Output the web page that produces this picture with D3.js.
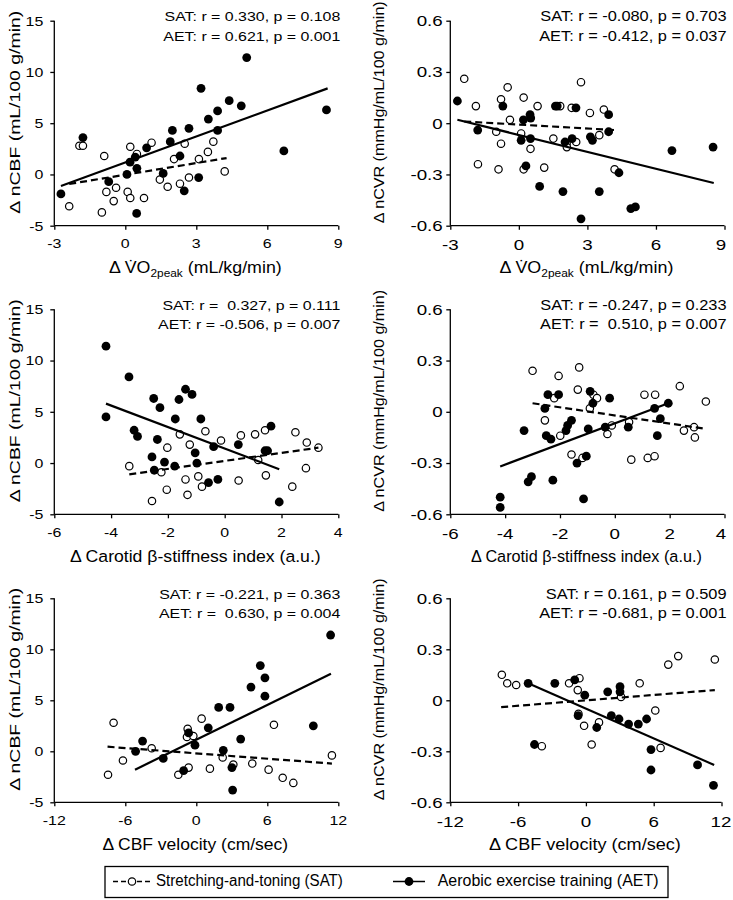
<!DOCTYPE html>
<html><head><meta charset="utf-8">
<script src="https://cdn.jsdelivr.net/npm/d3@7"></script>
<style>
body{margin:0;background:#fff}
text{font-family:"Liberation Sans",Arial,sans-serif;fill:#000;white-space:pre}
</style>
</head><body><svg id="c" width="733" height="900"></svg>
<script>
// ---------- tick values / labels ----------
const vo2Ticks = [-3, 0, 3, 6, 9];
const vo2TickLabels = ["-3", "0", "3", "6", "9"];
const stiffTicks = [-6, -4, -2, 0, 2, 4];
const stiffTickLabels = ["-6", "-4", "-2", "0", "2", "4"];
const velTicks = [-12, -6, 0, 6, 12];
const velTickLabels = ["-12", "-6", "0", "6", "12"];
const cbfTicks = [-5, 0, 5, 10, 15];
const cbfTickLabels = ["-5", "0", "5", "10", "15"];
const cvrTicks = [-0.6, -0.3, 0, 0.3, 0.6];
const cvrTickLabels = ["-0.6", "-0.3", "0", "0.3", "0.6"];

// ---------- panel 1: VO2peak vs nCBF ----------
const p1SatX = [-2.37,-1.94,-1.79,-0.89,-0.99,-0.8,-0.39,-0.49,0.1,0.21,0.21,0.49,0.79,1.11,1.46,1.79,2.06,2.31,2.51,2.69,3.11,3.49,3.72,4.2];
const p1SatY = [-3.1,2.8,2.8,1.8,-3.7,-1.7,-1.3,-2.6,-1.7,2.7,-2.3,2.0,-2.3,3.1,-0.5,-1.2,1.5,-0.9,3.0,-0.3,1.5,2.2,3.2,0.3];
const p1AetX = [-2.72,-1.79,-0.70,0.07,0.2,0.42,0.49,0.48,0.9,1.6,1.9,1.99,2.31,2.49,2.69,3.1,3.2,3.51,3.9,3.9,4.39,4.9,5.13,6.7,8.5];
const p1AetY = [-1.9,3.6,-0.7,0.0,1.2,1.7,0.6,-3.8,2.6,0.1,3.2,4.3,1.8,-1.6,4.5,-0.3,8.4,5.4,6.2,4.3,7.2,6.7,11.4,2.3,6.3];
const p1SatFit = [-2.37,-0.93,4.28,1.6];
const p1AetFit = [-2.72,-1.13,8.55,8.4];
const p1Stats = ["SAT: r = 0.330, p = 0.108", "AET: r = 0.621, p = 0.001"];

// ---------- panel 2: VO2peak vs nCVR ----------
const p2SatX = [-2.39,-1.88,-1.79,-0.78,-0.99,-0.78,-0.89,-0.49,-0.39,0.21,0.1,0.21,0.51,0.82,1.11,1.51,1.81,2.09,2.1,2.31,2.51,2.72,3.11,3.52,3.72,4.19];
const p2SatY = [0.26,0.10,-0.24,0.14,-0.05,-0.12,-0.27,0.21,0.02,0.15,-0.06,-0.27,-0.15,0.10,-0.26,-0.09,0.10,-0.12,-0.14,0.09,-0.11,0.24,0.06,-0.07,0.08,-0.27];
const p2AetX = [-2.69,-1.8,-0.7,0.1,0.2,0.31,0.49,0.52,0.51,0.91,1.6,1.68,1.93,2.02,2.33,2.5,2.72,3.13,3.22,3.52,3.93,3.93,4.38,4.9,5.1,6.7,8.5];
const p2AetY = [0.13,-0.04,0.10,-0.10,0.02,-0.25,0.05,0.03,-0.09,-0.37,0.10,0.10,-0.40,-0.11,-0.09,0.09,-0.56,-0.08,-0.10,-0.40,0.05,-0.05,-0.29,-0.50,-0.49,-0.16,-0.14];
const p2SatFit = [-2.39,0.01,4.19,-0.04];
const p2AetFit = [-2.69,0.02,8.53,-0.35];
const p2Stats = ["SAT: r = -0.080, p = 0.703", "AET: r = -0.412, p = 0.037"];

// ---------- panel 3: carotid stiffness vs nCBF ----------
const p3SatX = [-3.36,-2.56,-2.23,-2.02,-2.04,-1.58,-1.38,-1.31,-1.23,-0.93,-0.8,-0.68,-0.13,0.49,0.57,1.07,1.18,1.42,1.45,2.38,2.49,2.86,2.89,3.3];
const p3SatY = [-0.3,-3.7,-0.9,1.5,-2.6,2.8,-1.6,-3.1,1.8,-1.3,-2.3,3.1,2.2,-1.7,2.7,2.8,0.3,3.2,-1.2,-2.3,3.0,-0.5,2.0,1.5];
const p3AetX = [-4.18,-4.18,-3.37,-3.19,-3.07,-2.5,-2.56,-2.48,-2.37,-2.28,-2.12,-1.76,-1.74,-1.61,-1.38,-1.15,-1.04,-0.98,-0.84,-0.57,-0.24,-0.39,0.48,1.42,1.51,1.63,1.92];
const p3AetY = [11.4,4.5,8.4,3.2,2.6,6.3,0.6,-0.7,2.3,5.4,0.1,-0.3,4.3,6.2,7.2,6.7,1.0,0.0,4.3,-1.9,-1.6,1.6,1.8,1.2,1.2,3.6,-3.8];
const p3SatFit = [-3.36,-1.1,3.3,1.5];
const p3AetFit = [-4.18,5.8,1.92,-0.6];
const p3Stats = ["SAT: r =  0.327, p = 0.111", "AET: r = -0.506, p = 0.007"];

// ---------- panel 4: carotid stiffness vs nCVR ----------
const p4SatX = [-3.0,-2.55,-2.21,-2.05,-1.99,-1.58,-1.35,-1.3,-1.18,-0.78,-0.65,-0.91,-0.27,-0.11,0.52,0.6,1.08,1.2,1.45,1.47,2.37,2.52,2.89,2.92,3.32];
const p4SatY = [0.24,-0.05,0.08,0.21,-0.14,-0.25,0.13,0.26,-0.27,0.10,0.08,0.02,-0.13,-0.08,-0.06,-0.28,0.10,-0.27,-0.26,0.10,0.15,-0.11,-0.09,-0.15,0.06];
const p4AetX = [-4.18,-4.18,-3.31,-3.16,-3.04,-2.44,-2.55,-2.5,-2.33,-2.26,-2.05,-1.78,-1.72,-1.58,-1.38,-1.14,-1.04,-0.97,-0.9,-0.8,-0.19,-0.35,0.49,1.45,1.55,1.66,1.95];
const p4AetY = [-0.50,-0.56,-0.11,-0.41,-0.38,0.10,0.02,-0.14,-0.16,-0.40,0.10,-0.11,-0.08,-0.05,-0.30,-0.51,-0.26,-0.10,0.12,0.05,0.08,-0.09,-0.09,0.02,-0.14,-0.04,0.05];
const p4SatFit = [-3.0,0.05,3.32,-0.10];
const p4AetFit = [-4.18,-0.32,1.95,0.05];
const p4Stats = ["SAT: r = -0.247, p = 0.233", "AET: r =  0.510, p = 0.007"];

// ---------- panel 5: CBF velocity vs nCBF ----------
const p5SatX = [-7.46,-6.99,-6.2,-3.77,-1.52,-0.73,-0.79,-0.65,-0.25,0.45,1.15,2.23,3.13,4.73,6.11,6.56,7.3,8.2,11.46];
const p5SatY = [-2.3,2.8,-0.9,0.3,-2.3,2.2,1.4,-1.6,1.5,3.2,-1.7,-0.6,-1.3,-1.2,-1.8,2.6,-2.6,-3.1,-0.4];
const p5AetX = [-5.13,-4.54,-2.79,-1.07,-0.65,-0.11,1.01,1.89,2.28,2.85,3.01,3.07,3.75,4.62,5.41,5.8,5.8,9.89,11.35];
const p5AetY = [0.0,1.0,-0.7,-1.9,1.8,0.6,2.3,4.3,0.1,4.3,-1.6,-3.8,1.2,6.3,8.4,7.2,5.4,2.5,11.4];
const p5SatFit = [-7.5,0.45,11.46,-1.2];
const p5AetFit = [-5.18,-1.8,11.38,7.6];
const p5Stats = ["SAT: r = -0.221, p = 0.363", "AET: r =  0.630, p = 0.004"];

// ---------- panel 6: CBF velocity vs nCVR ----------
const p6SatX = [-7.44,-6.96,-6.17,-3.9,-1.49,-0.57,-0.72,-0.66,-0.16,0.51,1.16,3.11,4.76,6.14,6.61,7.29,8.17,11.41];
const p6SatY = [0.15,0.10,0.09,-0.27,0.10,0.13,0.06,-0.08,-0.15,-0.26,-0.13,0.02,0.10,-0.06,-0.28,0.21,0.26,0.24];
const p6AetX = [-5.11,-4.55,-2.75,-0.99,-0.69,-0.1,0.96,1.93,2.25,2.93,3.02,3.02,3.78,4.64,5.37,5.76,5.76,9.88,11.29];
const p6AetY = [0.10,-0.26,0.10,0.12,-0.09,0.03,-0.16,0.05,-0.09,-0.11,0.08,0.05,-0.14,-0.14,-0.11,-0.29,-0.41,-0.38,-0.50];
const p6SatFit = [-7.5,-0.04,11.41,0.06];
const p6AetFit = [-5.11,0.10,11.35,-0.38];
const p6Stats = ["SAT: r = 0.161, p = 0.509", "AET: r = -0.681, p = 0.001"];

const legendLabels = ["Stretching-and-toning (SAT)", "Aerobic exercise training (AET)"];

// ---------- layout ----------
const svg = d3.select("#c");
const cols = [{x0: 54.3, x1: 338.3}, {x0: 450.3, x1: 724.5}];
const rows = [{y0: 20.7, y1: 225.7}, {y0: 309.3, y1: 514.3}, {y0: 598.3, y1: 802.3}];
const colStyle = [
  {tick: 13.5, tk: 1.18, ytx: 11, xty: 22.5, ann: 13.5, ak: 1.18, ylabLen: 203, ylabX: 19.5},
  {tick: 15, tk: 1.25, ytx: 7.6, xty: 24.5, ann: 14, ak: 1.17, ylabLen: 222, ylabX: 384}
];

function zip(xs, ys) { return xs.map((x, i) => [x, ys[i]]); }

const panels = [
  {c: 0, r: 0, sat: zip(p1SatX, p1SatY), aet: zip(p1AetX, p1AetY), sf: p1SatFit, af: p1AetFit, st: p1Stats,
   xd: [-3, 9], xt: vo2Ticks, xtl: vo2TickLabels, yd: [-5, 15], yt: cbfTicks, ytl: cbfTickLabels, xl: "vo2", xw: 173, yl: "Δ nCBF (mL/100 g/min)"},
  {c: 1, r: 0, sat: zip(p2SatX, p2SatY), aet: zip(p2AetX, p2AetY), sf: p2SatFit, af: p2AetFit, st: p2Stats,
   xd: [-3, 9], xt: vo2Ticks, xtl: vo2TickLabels, yd: [-0.6, 0.6], yt: cvrTicks, ytl: cvrTickLabels, xl: "vo2", xw: 174, yl: "Δ nCVR (mmHg/mL/100 g/min)"},
  {c: 0, r: 1, sat: zip(p3SatX, p3SatY), aet: zip(p3AetX, p3AetY), sf: p3SatFit, af: p3AetFit, st: p3Stats,
   xd: [-6, 4], xt: stiffTicks, xtl: stiffTickLabels, yd: [-5, 15], yt: cbfTicks, ytl: cbfTickLabels, xl: "Δ Carotid β-stiffness index (a.u.)", xw: 251, yl: "Δ nCBF (mL/100 g/min)"},
  {c: 1, r: 1, sat: zip(p4SatX, p4SatY), aet: zip(p4AetX, p4AetY), sf: p4SatFit, af: p4AetFit, st: p4Stats,
   xd: [-6, 4], xt: stiffTicks, xtl: stiffTickLabels, yd: [-0.6, 0.6], yt: cvrTicks, ytl: cvrTickLabels, xl: "Δ Carotid β-stiffness index (a.u.)", xw: 231, yl: "Δ nCVR (mmHg/mL/100 g/min)"},
  {c: 0, r: 2, sat: zip(p5SatX, p5SatY), aet: zip(p5AetX, p5AetY), sf: p5SatFit, af: p5AetFit, st: p5Stats,
   xd: [-12, 12], xt: velTicks, xtl: velTickLabels, yd: [-5, 15], yt: cbfTicks, ytl: cbfTickLabels, xl: "Δ CBF velocity (cm/sec)", xw: 186, yl: "Δ nCBF (mL/100 g/min)"},
  {c: 1, r: 2, x1: 721.5, sat: zip(p6SatX, p6SatY), aet: zip(p6AetX, p6AetY), sf: p6SatFit, af: p6AetFit, st: p6Stats,
   xd: [-12, 12], xt: velTicks, xtl: velTickLabels, yd: [-0.6, 0.6], yt: cvrTicks, ytl: cvrTickLabels, xl: "Δ CBF velocity (cm/sec)", xw: 192, yl: "Δ nCVR (mmHg/mL/100 g/min)"}
];

function place(t, x, y, k, rot) {
  t.attr("transform", `translate(${x},${y})${rot ? " rotate(-90)" : ""} scale(${k},1)`);
  return t;
}
function fitTo(t, x, y, w, rot) {
  const n = t.node().getComputedTextLength();
  return place(t, x, y, w / n, rot);
}

panels.forEach(p => {
  const col = {x0: cols[p.c].x0, x1: p.x1 || cols[p.c].x1};
  const row = rows[p.r], cs = colStyle[p.c];
  const x = d3.scaleLinear().domain(p.xd).range([col.x0, col.x1]);
  const y = d3.scaleLinear().domain(p.yd).range([row.y1, row.y0]);
  const g = svg.append("g");

  // axes
  const yAxis = d3.axisLeft(y).tickValues(p.yt).tickSize(4).tickFormat("");
  const xAxis = d3.axisBottom(x).tickValues(p.xt).tickSize(4).tickFormat("");
  const ga = g.append("g").attr("transform", `translate(${col.x0},0)`).call(yAxis);
  const gb = g.append("g").attr("transform", `translate(0,${row.y1})`).call(xAxis);
  [ga, gb].forEach(a => {
    a.select(".domain").attr("stroke", "#000").attr("stroke-width", 1.3);
    a.selectAll(".tick line").attr("stroke", "#000").attr("stroke-width", 1.3);
  });
  ga.select(".domain").attr("d", `M0,${row.y0}V${row.y1}`);
  gb.select(".domain").attr("d", `M${col.x0},0H${col.x1}`);

  // tick labels
  p.yt.forEach((v, i) => {
    const t = g.append("text").attr("font-size", cs.tick).attr("text-anchor", "end").text(p.ytl[i]);
    place(t, col.x0 - cs.ytx, y(v) + cs.tick * 0.36, cs.tk, false);
  });
  p.xt.forEach((v, i) => {
    const t = g.append("text").attr("font-size", cs.tick).attr("text-anchor", "middle").text(p.xtl[i]);
    place(t, Math.min(x(v), 721), row.y1 + cs.xty, cs.tk, false);
  });

  // points
  g.append("g").selectAll("circle").data(p.sat).join("circle")
    .attr("cx", d => x(d[0])).attr("cy", d => y(d[1])).attr("r", 3.7)
    .attr("fill", "#fff").attr("stroke", "#000").attr("stroke-width", 1.2);
  g.append("g").selectAll("circle").data(p.aet).join("circle")
    .attr("cx", d => x(d[0])).attr("cy", d => y(d[1])).attr("r", 4.4)
    .attr("fill", "#000");

  // regression lines
  g.append("line").attr("x1", x(p.sf[0])).attr("y1", y(p.sf[1])).attr("x2", x(p.sf[2])).attr("y2", y(p.sf[3]))
    .attr("stroke", "#000").attr("stroke-width", 2.2).attr("stroke-dasharray", "7,4");
  g.append("line").attr("x1", x(p.af[0])).attr("y1", y(p.af[1])).attr("x2", x(p.af[2])).attr("y2", y(p.af[3]))
    .attr("stroke", "#000").attr("stroke-width", 2.2);

  // stats annotation
  p.st.forEach((s, i) => {
    const t = g.append("text").attr("font-size", cs.ann).attr("text-anchor", "end").text(s);
    place(t, cols[p.c].x1 + 2, row.y0 + 0.5 + i * 19.3, cs.ak, false);
  });

  // y label
  const yl = g.append("text").attr("font-size", 15.5).attr("text-anchor", "middle").text(p.yl);
  fitTo(yl, cs.ylabX, (row.y0 + row.y1) / 2 - 11, cs.ylabLen, true);

  // x label
  const xt = g.append("text").attr("font-size", 16.5).attr("text-anchor", "middle");
  if (p.xl === "vo2") {
    xt.append("tspan").text("Δ V\u0307O");
    xt.append("tspan").attr("font-size", 11).attr("dy", 4).text("2peak");
    xt.append("tspan").attr("dy", -4).text(" (mL/kg/min)");
  } else {
    xt.text(p.xl);
  }
  fitTo(xt, (col.x0 + col.x1) / 2 - 1, row.y1 + 47.5, p.xw, false);
});

// ---------- legend ----------
const lg = svg.append("g");
lg.append("rect").attr("x", 105).attr("y", 866.5).attr("width", 563).attr("height", 31)
  .attr("fill", "#fff").attr("stroke", "#000").attr("stroke-width", 1.3);
const ly = 881.5;
lg.append("line").attr("x1", 113).attr("x2", 151).attr("y1", ly).attr("y2", ly)
  .attr("stroke", "#000").attr("stroke-width", 1.5).attr("stroke-dasharray", "5,3");
lg.append("circle").attr("cx", 132).attr("cy", ly).attr("r", 3.7).attr("fill", "#fff").attr("stroke", "#000").attr("stroke-width", 1.2);
const l1 = lg.append("text").attr("font-size", 16).attr("text-anchor", "start").text(legendLabels[0]);
fitTo(l1, 156, 886, 187, false);
lg.append("line").attr("x1", 393).attr("x2", 425).attr("y1", ly).attr("y2", ly)
  .attr("stroke", "#000").attr("stroke-width", 1.5);
lg.append("circle").attr("cx", 409).attr("cy", ly).attr("r", 4.4).attr("fill", "#000");
const l2 = lg.append("text").attr("font-size", 16).attr("text-anchor", "start").text(legendLabels[1]);
fitTo(l2, 437.7, 886, 221, false);
</script></body></html>
